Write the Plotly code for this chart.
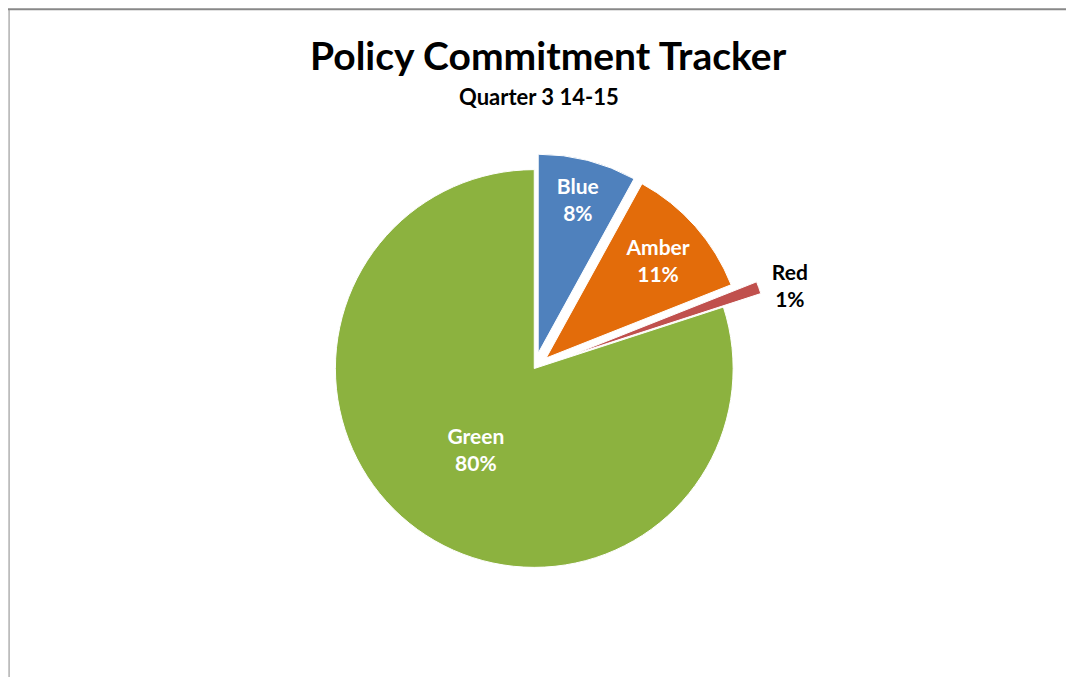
import plotly.graph_objects as go

categories = ["Blue", "Amber", "Red", "Green"]
values = [8, 11, 1, 80]
colors = ["#4F81BD", "#E36C0A", "#C0504D", "#8CB23F"]
pulls = [0.08, 0.08, 0.2, 0.0]
text_positions = ["inside", "inside", "outside", "inside"]
text_colors = ["white", "white", "black", "white"]

fig = go.Figure(go.Pie(
    labels=categories,
    values=values,
    sort=False,
    direction="clockwise",
    rotation=0,
    pull=pulls,
    marker=dict(colors=colors, line=dict(color="white", width=1)),
    texttemplate="<b>%{label}<br>%{percent:.0%}</b>",
    textposition=text_positions,
    insidetextorientation="horizontal",
    textfont=dict(family="Lato", size=21, color=text_colors),
    outsidetextfont=dict(family="Lato", size=21, color="black"),
    hoverinfo="label+percent",
    showlegend=False,
    domain=dict(x=[0.19, 0.79], y=[0.115, 0.82]),
))

fig.update_layout(
    width=1074, height=677,
    margin=dict(l=0, r=0, t=0, b=0),
    paper_bgcolor="white",
    plot_bgcolor="white",
    font=dict(family="Lato"),
    annotations=[
        dict(text="<b>Policy Commitment Tracker</b>", x=0.503, y=0.931, xref="paper", yref="paper",
             showarrow=False, xanchor="center", yanchor="middle",
             font=dict(family="Lato", size=39, color="black")),
        dict(text="<b>Quarter 3 14-15</b>", x=0.494, y=0.869, xref="paper", yref="paper",
             showarrow=False, xanchor="center", yanchor="middle",
             font=dict(family="Lato", size=22, color="black")),
    ],
    shapes=[
        dict(type="line", xref="paper", yref="paper", x0=0.0, x1=1.0, y0=0.998, y1=0.998,
             line=dict(color="#888888", width=2)),
        dict(type="line", xref="paper", yref="paper", x0=0.001, x1=0.001, y0=0.0, y1=0.998,
             line=dict(color="#888888", width=1)),
    ],
)

fig.write_html("out.html")
